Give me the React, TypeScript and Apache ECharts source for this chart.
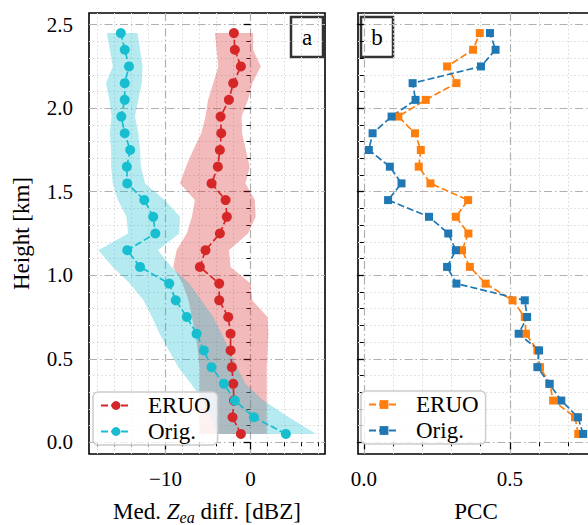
import React, { useEffect, useRef } from 'react';
import * as echarts from 'echarts';

const heights = [0.05, 0.15, 0.25, 0.35, 0.45, 0.55, 0.65, 0.75, 0.85, 0.95, 1.05, 1.15, 1.25, 1.35, 1.45, 1.55, 1.65, 1.75, 1.85, 1.95, 2.05, 2.15, 2.25, 2.35, 2.45];

const eruoMedian = [-1.14, -2.12, -1.96, -2.04, -2.2, -2.35, -2.35, -2.63, -3.69, -3.69, -5.96, -5.3, -3.61, -2.79, -2.94, -4.59, -3.85, -3.61, -3.45, -3.53, -2.55, -2.04, -1.14, -1.85, -1.96];
const eruoLow = [-6.0, -6.0, -6.0, -6.0, -6.0, -6.2, -6.5, -6.9, -7.3, -8.0, -9.1, -8.7, -7.5, -6.9, -6.55, -8.3, -7.6, -6.75, -5.8, -5.3, -5.0, -4.4, -3.8, -4.0, -4.2];
const eruoHigh = [1.9, 1.9, 1.9, 1.9, 1.9, 2.0, 2.1, 2.0, 0.2, 0.0, -2.35, -2.55, -0.3, 0.6, 0.5, -0.6, -0.1, -0.55, -1.0, -1.06, -0.3, 0.2, 1.2, 0.3, 0.3];

const origMedian = [4.15, 0.39, -1.85, -3.14, -4.6, -5.5, -6.35, -7.5, -8.8, -9.57, -13.0, -14.5, -11.2, -11.45, -12.5, -14.5, -14.55, -14.16, -14.8, -15.2, -14.8, -14.8, -14.3, -14.79, -15.26];
const origLow = [-4.0, -4.6, -5.6, -7.0, -8.5, -9.6, -10.7, -11.6, -12.6, -14.2, -16.2, -17.9, -14.4, -14.6, -15.6, -16.2, -16.4, -16.4, -16.55, -16.35, -16.6, -17.0, -16.2, -16.55, -16.9];
const origHigh = [7.7, 4.5, 1.5, -0.6, -1.6, -2.5, -3.4, -4.4, -5.8, -7.2, -9.3, -10.9, -8.4, -8.3, -10.1, -12.4, -12.9, -13.0, -13.2, -13.6, -13.2, -12.8, -12.7, -13.0, -13.3];

const eruoPCC = [0.734, 0.723, 0.648, 0.637, 0.603, 0.594, 0.555, 0.551, 0.509, 0.417, 0.363, 0.336, 0.358, 0.315, 0.357, 0.228, 0.188, 0.195, 0.175, 0.118, 0.212, 0.317, 0.285, 0.374, 0.397];
const origPCC = [0.751, 0.733, 0.676, 0.635, 0.594, 0.600, 0.530, 0.559, 0.551, 0.317, 0.285, 0.315, 0.289, 0.223, 0.083, 0.129, 0.089, 0.017, 0.030, 0.095, 0.177, 0.167, 0.401, 0.451, 0.432];

const yMajorTicks = [0, 0.5, 1.0, 1.5, 2.0, 2.5];
const yMinorTicks = [0.1, 0.2, 0.3, 0.4, 0.6, 0.7, 0.8, 0.9, 1.1, 1.2, 1.3, 1.4, 1.6, 1.7, 1.8, 1.9, 2.1, 2.2, 2.3, 2.4];
const xaMajorTicks = [-10, 0];
const xaMinorTicks = [-18, -16, -14, -12, -8, -6, -4, -2, 2, 4, 6, 8];
const xbMajorTicks = [0, 0.5];
const xbMinorTicks = [0.1, 0.2, 0.3, 0.4, 0.6, 0.7];

const legendNames = ['ERUO', 'Orig.'];

const FONT = 'Liberation Serif';
const FS = 21;
const FN = 23;
const RED = '#d62728';
const CYAN = '#17becf';
const ORANGE = '#ff7f0e';
const BLUE = '#1f77b4';

const Y_MIN = -0.07, Y_MAX = 2.57;
const XA_MIN = -19.0, XA_MAX = 8.75;
const XB_MIN = -0.02, XB_MAX = 0.788;

const majorSplit = { show: true, lineStyle: { color: '#b0b0b0', width: 1.2, type: [8, 3, 1.5, 3] } };
const minorSplit = { show: true, lineStyle: { color: '#d9d9d9', width: 1, type: [1.5, 2.5] } };

const txt = { fontFamily: FONT, fontSize: FS, color: '#000', fontWeight: 'normal' };
const txtN = { fontFamily: FONT, fontSize: FN, color: '#000', fontWeight: 'normal' };
const richT = { t: { ...txt } };
const richN = { t: { ...txtN } };

function axisPair(dim: 'x' | 'y', gridIndex: number, min: number, max: number, major: number[], minor: number[], showLabels: boolean, fmt: (v: number) => string, extra: any) {
  const position = dim === 'x' ? 'bottom' : 'left';
  const maj: any = {
    type: 'value', gridIndex, min, max, position,
    axisLine: { show: false },
    axisTick: { show: true, inside: false, length: 7, customValues: major, lineStyle: { color: '#000', width: 1.3 } },
    axisLabel: { show: showLabels, customValues: major, formatter: (v: number) => '{t|' + fmt(v) + '}', margin: dim === 'x' ? 14 : 16, ...txt, rich: richT },
    splitLine: majorSplit,
    minorTick: { show: false }, minorSplitLine: { show: false },
    ...extra,
  };
  const mnr: any = {
    type: 'value', gridIndex, min, max, position,
    axisLine: { show: false },
    axisTick: { show: true, inside: false, length: 4, customValues: minor, lineStyle: { color: '#000', width: 1 } },
    axisLabel: { show: false },
    splitLine: minorSplit,
    minorTick: { show: false }, minorSplitLine: { show: false },
  };
  return [maj, mnr];
}

function band(xIdx: number, yIdx: number, low: number[], high: number[], color: string) {
  return {
    type: 'custom', xAxisIndex: xIdx, yAxisIndex: yIdx, z: 2, silent: true,
    data: [[0, 1]],
    renderItem: (_params: any, api: any) => {
      const pts: number[][] = [];
      for (let i = 0; i < heights.length; i++) pts.push(api.coord([low[i], heights[i]]));
      for (let i = heights.length - 1; i >= 0; i--) pts.push(api.coord([high[i], heights[i]]));
      return { type: 'polygon', shape: { points: pts }, style: { fill: color, stroke: 'none' } };
    },
  };
}

function lineSeries(name: string, xIdx: number, yIdx: number, vals: number[], color: string, symbol: string, size: number) {
  return {
    type: 'line', name, xAxisIndex: xIdx, yAxisIndex: yIdx, z: 3,
    data: heights.map((h, i) => [vals[i], h]),
    symbol, symbolSize: size, showSymbol: true,
    lineStyle: { color, width: 1.7, type: [7, 3] },
    itemStyle: { color },
  };
}

function legendBox(left: number, top: number, data: string[]) {
  return {
    show: true, orient: 'vertical', left, top, data,
    itemWidth: 30, itemHeight: 11, itemGap: 3,
    padding: [2, 7, 2, 7],
    backgroundColor: 'rgba(255,255,255,0.8)', borderColor: '#cccccc', borderWidth: 1.5, borderRadius: 5,
    selectedMode: false,
    formatter: (n: string) => '{t|' + n.replace('_b', '') + '}',
    textStyle: { ...txtN, padding: [0, 0, 0, 12], rich: richN },
  };
}

function panelLabel(x: number, y: number, t: string) {
  return {
    type: 'group', z: 100,
    children: [
      { type: 'rect', shape: { x, y, width: 32, height: 40 }, style: { fill: '#fff', stroke: '#333', lineWidth: 2.5 } },
      { type: 'text', x: x + 16, y: y + 20, style: { text: t, fontFamily: FONT, fontSize: FN, fill: '#000', align: 'center', verticalAlign: 'middle' } },
    ],
  };
}

export default function App() {
  const ref = useRef<HTMLDivElement>(null);
  useEffect(() => {
    if (!ref.current) return;
    const chart = echarts.init(ref.current, undefined, { renderer: 'svg' });
    const fmt1 = (v: number) => v.toFixed(1);
    const fmtA = (v: number) => (v < 0 ? '\u2212' : '') + Math.abs(v);
    const [xa0, xa1] = axisPair('x', 0, XA_MIN, XA_MAX, xaMajorTicks, xaMinorTicks, true, fmtA, {
      name: '{t|Med. }{i|Z}{s|ea}{t| diff. [dBZ]}', nameLocation: 'middle', nameGap: 45,
      nameTextStyle: {
        rich: {
          t: { ...txtN, lineHeight: 24 },
          i: { ...txtN, fontStyle: 'italic', lineHeight: 24 },
          s: { ...txtN, fontSize: 16, fontStyle: 'italic', lineHeight: 16, padding: [12, 0, 0, 0] },
        },
      },
    });
    const [xb0, xb1] = axisPair('x', 1, XB_MIN, XB_MAX, xbMajorTicks, xbMinorTicks, true, fmt1, {
      name: '{t|PCC}', nameLocation: 'middle', nameGap: 45,
      nameTextStyle: { ...txtN, rich: { t: { ...txtN, lineHeight: 24 } } },
    });
    const [ya0, ya1] = axisPair('y', 0, Y_MIN, Y_MAX, yMajorTicks, yMinorTicks, true, fmt1, {
      name: '{t|Height [km]}', nameLocation: 'middle', nameGap: 56, nameRotate: 90,
      nameTextStyle: { ...txtN, rich: richN },
    });
    const [yb0, yb1] = axisPair('y', 1, Y_MIN, Y_MAX, yMajorTicks, yMinorTicks, false, fmt1, {});

    chart.setOption({
      animation: false,
      backgroundColor: '#fff',
      textStyle: { fontFamily: FONT },
      grid: [
        { left: 89, top: 13, width: 236, height: 441, show: true, borderColor: '#000', borderWidth: 1.6, backgroundColor: 'transparent', containLabel: false, outerBoundsMode: 'none' },
        { left: 358, top: 13, width: 236, height: 441, show: true, borderColor: '#000', borderWidth: 1.6, backgroundColor: 'transparent', containLabel: false, outerBoundsMode: 'none' },
      ],
      xAxis: [xa0, xa1, xb0, xb1],
      yAxis: [ya0, ya1, yb0, yb1],
      legend: [
        legendBox(93, 392, legendNames),
        legendBox(361, 391, legendNames.map((n) => n + '_b')),
      ],
      series: [
        band(0, 0, eruoLow, eruoHigh, 'rgba(214,39,40,0.32)'),
        band(0, 0, origLow, origHigh, 'rgba(23,190,207,0.32)'),
        lineSeries('ERUO', 0, 0, eruoMedian, RED, 'circle', 10),
        lineSeries('Orig.', 0, 0, origMedian, CYAN, 'circle', 10),
        lineSeries('ERUO_b', 2, 2, eruoPCC, ORANGE, 'rect', 8),
        lineSeries('Orig._b', 2, 2, origPCC, BLUE, 'rect', 8),
      ],
      graphic: [panelLabel(291, 17, 'a'), panelLabel(361, 17, 'b')],
    });
    return () => chart.dispose();
  }, []);
  return (
    <div style={{ position: 'absolute', left: 0, top: 0, width: 588, height: 525, overflow: 'hidden', background: '#fff' }}>
      <div ref={ref} style={{ width: 600, height: 525 }} />
    </div>
  );
}
